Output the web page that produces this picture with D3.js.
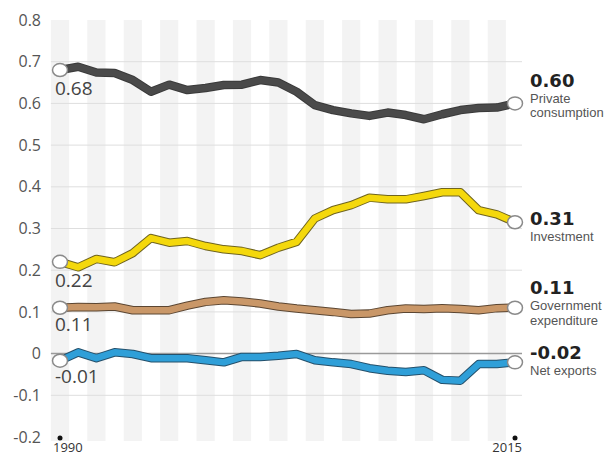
<!DOCTYPE html>
<html>
<head>
<meta charset="utf-8">
<script src="https://cdn.jsdelivr.net/npm/d3@7"></script>
<style>
  body { margin: 0; background: #fff; }
  svg { display: block; }
  .tick text { font-family: "Open Sans", sans-serif; font-size: 16px; fill: #555; }
</style>
</head>
<body>
<div id="chart"></div>
<script>
// years shown on the chart
var years = d3.range(1990, 2016);

// shares of GDP growth
var privateCons = [0.68, 0.688, 0.674, 0.673, 0.656, 0.628, 0.645, 0.632, 0.637, 0.644, 0.645, 0.656, 0.650,
    0.628, 0.596, 0.584, 0.576, 0.570, 0.578, 0.572, 0.562, 0.574, 0.584, 0.589, 0.590, 0.60];
var investment = [0.22, 0.207, 0.227, 0.219, 0.241, 0.277, 0.266, 0.270, 0.258, 0.250, 0.246, 0.236, 0.254,
    0.268, 0.324, 0.344, 0.356, 0.374, 0.370, 0.370, 0.378, 0.387, 0.387, 0.344, 0.334, 0.315];
var govExp = [0.11, 0.112, 0.111, 0.113, 0.104, 0.104, 0.104, 0.115, 0.124, 0.128, 0.125, 0.120, 0.113,
    0.108, 0.104, 0.100, 0.095, 0.096, 0.104, 0.108, 0.107, 0.109, 0.107, 0.104, 0.109, 0.11];
var netExports = [-0.017, 0.003, -0.011, 0.003, -0.001, -0.011, -0.011, -0.011, -0.016, -0.021, -0.008, -0.008, -0.005,
    -0.001, -0.016, -0.021, -0.025, -0.035, -0.041, -0.044, -0.040, -0.063, -0.065, -0.025, -0.025, -0.021];

var yTicks = [0.8, 0.7, 0.6, 0.5, 0.4, 0.3, 0.2, 0.1, 0, -0.1, -0.2];
var startLabels = ["0.68", "0.22", "0.11", "-0.01"];
var endValues = ["0.60", "0.31", "0.11", "-0.02"];
var endNames = [["Private", "consumption"], ["Investment"], ["Government", "expenditure"], ["Net exports"]];

var width = 611, height = 456;

var svg = d3.select('#chart')
    .append('svg')
    .attr('width', width)
    .attr('height', height);

var x = d3.scaleLinear().domain([1990, 2015]).range([60, 515]);
var y = d3.scaleLinear().domain([-0.2, 0.8]).range([437, 20]);
var step = x(1991) - x(1990);

// alternating year stripes
svg.append('g')
    .selectAll('rect')
    .data(years.filter(function (d) { return d % 2 == 0 && d < 2015; }))
    .enter()
    .append('rect')
    .attr('x', function (d) { return x(d) - step / 2; })
    .attr('width', step)
    .attr('y', y(0.8))
    .attr('height', y(-0.2) - y(0.8) + 4)
    .attr('fill', '#f3f3f3');

// grid lines
svg.append('g')
    .selectAll('line')
    .data(yTicks.filter(function (d) { return d < 0.75 && d > -0.15; }))
    .enter()
    .append('line')
    .attr('x1', x(1990) - step / 2)
    .attr('x2', 522)
    .attr('y1', function (d) { return y(d); })
    .attr('y2', function (d) { return y(d); })
    .attr('stroke', function (d) { return d == 0 ? '#9a9a9a' : '#dedede'; })
    .attr('stroke-width', function (d) { return d == 0 ? 1.5 : 1; });

// y axis labels
var y_axis = d3.axisLeft(y)
    .tickValues(yTicks)
    .tickSize(0)
    .tickPadding(0)
    .tickFormat(function (d) { return d == 0 ? "0" : d.toFixed(1); });

svg.append('g')
    .attr('class', 'y axis')
    .attr('transform', 'translate(41,0)')
    .call(y_axis)
    .call(function (g) { g.select('.domain').remove(); });

var series = [
    { values: privateCons, color: '#4a4a4a', edge: '#3a3a3a' },
    { values: investment, color: '#f4d80c', edge: '#6f6420' },
    { values: govExp, color: '#c99768', edge: '#5b4632' },
    { values: netExports, color: '#2f9fd8', edge: '#24506b' }
];

var line = d3.line()
    .x(function (d, i) { return x(years[i]); })
    .y(function (d) { return y(d); });

var dyStart = [25, 25, 23, 22];
var dyValue = [-16.5, 3, -13.5, -3];

series.forEach(function (s, k) {
    var g = svg.append('g');
    g.append('path')
        .attr('d', line(s.values))
        .attr('fill', 'none')
        .attr('stroke', s.edge)
        .attr('stroke-width', 8.5)
        .attr('stroke-linejoin', 'round')
        .attr('stroke-linecap', 'round');
    g.append('path')
        .attr('d', line(s.values))
        .attr('fill', 'none')
        .attr('stroke', s.color)
        .attr('stroke-width', 6.5)
        .attr('stroke-linejoin', 'round')
        .attr('stroke-linecap', 'round');

    var first = s.values[0], last = s.values[s.values.length - 1];
    [[1990, first], [2015, last]].forEach(function (p) {
        g.append('ellipse')
            .attr('cx', x(p[0]))
            .attr('cy', y(p[1]))
            .attr('rx', 7.5)
            .attr('ry', 6.5)
            .attr('fill', '#fff')
            .attr('stroke', '#8a8a8a')
            .attr('stroke-width', 1.5);
    });

    // start value
    g.append('text')
        .attr('x', x(1990) - 5)
        .attr('y', y(first) + dyStart[k])
        .attr('font-family', 'Open Sans, sans-serif')
        .attr('font-size', 19)
        .attr('fill', '#444')
        .text(startLabels[k]);

    // end value + name
    var ty = y(last) + dyValue[k];
    g.append('text')
        .attr('x', 530)
        .attr('y', ty)
        .attr('font-family', 'DejaVu Sans, sans-serif')
        .attr('font-weight', 'bold')
        .attr('font-size', 18)
        .attr('fill', '#222')
        .text(endValues[k]);
    endNames[k].forEach(function (t, j) {
        g.append('text')
            .attr('x', 530)
            .attr('y', ty + 16 + j * 14.5)
            .attr('font-family', 'Liberation Sans, Arial, sans-serif')
            .attr('font-size', 13)
            .attr('fill', '#555')
            .text(t);
    });
});

// year markers at the ends of the axis
[1990, 2015].forEach(function (yr) {
    svg.append('circle')
        .attr('cx', x(yr))
        .attr('cy', 438)
        .attr('r', 2.5)
        .attr('fill', '#111');
    svg.append('text')
        .attr('x', yr == 1990 ? x(yr) - 7 : x(yr) + 7)
        .attr('y', 452)
        .attr('text-anchor', yr == 1990 ? 'start' : 'end')
        .attr('font-family', 'Open Sans, sans-serif')
        .attr('font-size', 13)
        .attr('fill', '#333')
        .text(yr);
});
</script>
</body>
</html>
